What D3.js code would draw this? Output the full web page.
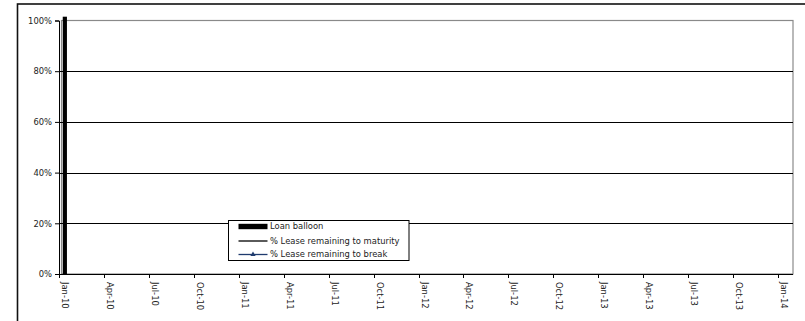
<!DOCTYPE html>
<html>
<head>
<meta charset="utf-8">
<script src="https://cdn.jsdelivr.net/npm/d3@7"></script>
<style>
  html, body { margin: 0; padding: 0; background: #fff; }
  svg { display: block; }
  text { font-family: "DejaVu Sans", Verdana, sans-serif; font-size: 8.4px; fill: #222; }
</style>
</head>
<body>
<svg id="chart" width="805" height="321"></svg>
<script>
// ---- data ----
const startMonth = new Date(2010, 0, 1);
const endMonth = new Date(2014, 0, 1);
const months = d3.timeMonth.range(startMonth, d3.timeMonth.offset(endMonth, 1)); // Jan-10 .. Jan-14
const tickLabels = ["Jan-10","Apr-10","Jul-10","Oct-10","Jan-11","Apr-11","Jul-11","Oct-11",
                    "Jan-12","Apr-12","Jul-12","Oct-12","Jan-13","Apr-13","Jul-13","Oct-13","Jan-14"];
const yTicks = [0, 0.2, 0.4, 0.6, 0.8, 1.0];
const loanBalloonDates = [new Date(2010, 0, 1)];
const loanBalloonValues = [1.015];
const leaseToMaturity = [];   // no visible points
const leaseToBreak = [];      // no visible points
const seriesNames = ["Loan balloon", "% Lease remaining to maturity", "% Lease remaining to break"];

// ---- layout ----
const svg = d3.select("#chart");
const pLeft = 59, pRight = 793, pTop = 20.5, pBottom = 274;

const x = d3.scaleBand().domain(months.map(d => +d)).range([pLeft, pRight]).padding(0);
const y = d3.scaleLinear().domain([0, 1]).range([pBottom, pTop]);

// outer frame
svg.append("rect").attr("x", 17.5).attr("y", 4).attr("width", 820).attr("height", 340)
  .attr("fill", "none").attr("stroke", "#111").attr("stroke-width", 1.6);

// plot area border (gray)
svg.append("rect").attr("x", 61.5).attr("y", pTop).attr("width", pRight - 61.5).attr("height", pBottom - pTop)
  .attr("fill", "none").attr("stroke", "#8a8a8a").attr("stroke-width", 1.2);

// gridlines
svg.append("g").selectAll("line").data(yTicks.filter(v => v > 0 && v < 1)).join("line")
  .attr("x1", pLeft).attr("x2", pRight)
  .attr("y1", d => Math.round(y(d)) + 0.5).attr("y2", d => Math.round(y(d)) + 0.5)
  .attr("stroke", "#000").attr("stroke-width", 1);

// bars
const step = x.step();
svg.append("g").selectAll("rect").data(loanBalloonDates.map((d, i) => ({d, v: loanBalloonValues[i]}))).join("rect")
  .attr("x", d => x(+d.d) + step * 0.25)
  .attr("width", step * 0.28)
  .attr("y", d => y(d.v))
  .attr("height", d => y(0) - y(d.v))
  .attr("fill", "#000");

// lines (empty series)
const line = d3.line().x(d => x(+d.date) + step / 2).y(d => y(d.value));
svg.append("path").datum(leaseToMaturity).attr("d", line).attr("fill", "none").attr("stroke", "#000");
svg.append("path").datum(leaseToBreak).attr("d", line).attr("fill", "none").attr("stroke", "#1f3b6e");

// y axis
const yAxis = d3.axisLeft(y).tickValues(yTicks).tickSize(4).tickPadding(3).tickFormat(d3.format(".0%"));
const gy = svg.append("g").attr("transform", `translate(${pLeft},0)`).call(yAxis);
gy.select(".domain").attr("stroke", "#000");
gy.selectAll(".tick line").attr("stroke", "#000");
gy.selectAll("text").style("font-family", "DejaVu Sans").style("font-size", "8.4px").attr("fill", "#222");

// x axis
const tickDates = months.filter((d, i) => i % 3 === 0);
const gx = svg.append("g").attr("transform", `translate(0,${pBottom})`);
gx.append("line").attr("x1", pLeft).attr("x2", pRight).attr("y1", 0.5).attr("y2", 0.5).attr("stroke", "#000");
const ticks = gx.selectAll("g.tick").data(tickDates).join("g").attr("class", "tick")
  .attr("transform", d => `translate(${Math.round(x(+d)) + 0.5},0)`);
ticks.append("line").attr("y1", 0).attr("y2", 4).attr("stroke", "#000");
ticks.append("text")
  .attr("transform", "translate(5,8) rotate(90)")
  .attr("dy", "0.35em")
  .attr("text-anchor", "start")
  .text((d, i) => tickLabels[i]);

// legend
const lg = svg.append("g").attr("transform", "translate(228.5,220.5)");
lg.append("rect").attr("width", 180.5).attr("height", 40).attr("fill", "#fff").attr("stroke", "#000");
const rowY = [6, 20.5, 34];
lg.append("rect").attr("x", 10).attr("y", rowY[0] - 2.7).attr("width", 29).attr("height", 5.4).attr("fill", "#000");
lg.append("line").attr("x1", 10).attr("x2", 39).attr("y1", rowY[1]).attr("y2", rowY[1]).attr("stroke", "#000").attr("stroke-width", 1.3);
lg.append("line").attr("x1", 10).attr("x2", 39).attr("y1", rowY[2]).attr("y2", rowY[2]).attr("stroke", "#1f3b6e").attr("stroke-width", 1.3);
lg.append("path").attr("d", d3.symbol(d3.symbolTriangle, 12)()).attr("transform", `translate(24.5,${rowY[2]})`).attr("fill", "#1f3b6e");
lg.selectAll("text.lab").data(seriesNames).join("text").attr("class", "lab")
  .attr("x", 41.5).attr("y", (d, i) => rowY[i]).attr("dy", "0.35em").text(d => d);
</script>
</body>
</html>
